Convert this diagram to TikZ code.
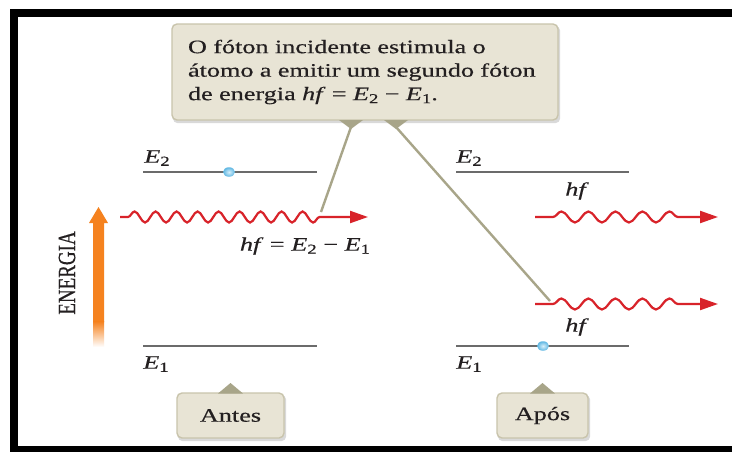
\documentclass[tikz,border=0pt]{standalone}
\usepackage{fontspec}
\usepackage{graphicx}
\setmainfont[FakeStretch=1.38,FakeBold=0.5]{Liberation Serif}
\newfontfamily\plainserif[FakeBold=0.5]{Liberation Serif}
\usetikzlibrary{arrows.meta,decorations.pathmorphing,shapes.geometric}

\definecolor{boxfill}{HTML}{E8E4D5}
\definecolor{boxedge}{HTML}{C9C4AC}
\definecolor{boxshadow}{HTML}{D9D9D9}
\definecolor{pointer}{HTML}{A8A589}
\definecolor{wavered}{HTML}{D8232A}
\definecolor{levelgray}{HTML}{6B6B6B}
\definecolor{energyorange}{HTML}{F5821F}
\definecolor{electron}{HTML}{5DB6E2}
\definecolor{electronlight}{HTML}{D8F0FB}
\definecolor{textdark}{HTML}{231F20}

\newcommand{\lowidx}[1]{\raisebox{-0.35ex}{\scalebox{0.72}{#1}}}
\newcommand{\mE}{\textit{E}}

\pgfdeclarelayer{shadowlayer}
\pgfsetlayers{shadowlayer,main}

\begin{document}
\begin{tikzpicture}[x=1pt,y=-1pt,
  textfont/.style={font=\fontsize{19}{23.5}\selectfont, text=textdark},
  labelfont/.style={font=\fontsize{19}{20}\selectfont, text=textdark, inner sep=0pt},
  callout/.style={draw=boxedge, fill=boxfill, line width=1.4pt, rounded corners=5pt},
  boxshade/.style={fill=boxshadow, rounded corners=5pt},
  tagbox/.style={callout, textfont, minimum height=45pt, inner sep=0pt},
  pointerline/.style={draw=pointer, line width=2.4pt},
  pointertip/.style={fill=pointer},
  level/.style={draw=levelgray, line width=1.6pt},
  electronball/.style={ellipse, inner color=electronlight, outer color=electron, minimum width=12pt, minimum height=9.5pt, inner sep=0pt},
  wave/.style={draw=wavered, line width=2.2pt, decorate,
     -{Triangle[length=18pt,width=12pt]}},
]
\useasboundingbox (0,0) rectangle (732,451);
\begin{pgfonlayer}{shadowlayer}
\fill[white] (-20,-20) rectangle (780,480);
\end{pgfonlayer}

% frame
\fill[black] (10,9) rectangle (18,480);
\fill[black] (10,9) rectangle (780,17);
\fill[black] (10,446) rectangle (780,480);

% callout
\node[callout, textfont, text width=354pt, inner xsep=16pt, inner ysep=0pt,
      minimum height=96pt, align=left] (note) at (365,72)
 {O fóton incidente estimula o\\
  átomo a emitir um segundo fóton\\
  de energia \textit{hf} = \mE\lowidx{2} − \mE\lowidx{1}.};

% connector pointers
\coordinate (p1) at (351,127);
\coordinate (p1e) at (321,212);
\coordinate (p2) at (396,127);
\coordinate (p2e) at (550,301);
\draw[pointerline] (p1) -- (p1e);
\draw[pointerline] (p2) -- (p2e);
\fill[pointertip] (339,120) -- (363,120) -- (351,129) -- cycle;
\fill[pointertip] (384,120) -- (408,120) -- (396,129) -- cycle;

% energy levels left
\coordinate (l2a) at (143,172); \coordinate (l2b) at (317,172);
\coordinate (l1a) at (143,346); \coordinate (l1b) at (317,346);
\draw[level] (l2a) -- (l2b);
\draw[level] (l1a) -- (l1b);
\node[electronball] (eleft) at (229,172) {};
\node[labelfont] (e2l) at (157,158) {\mE\lowidx{2}};
\node[labelfont] (e1l) at (156,364) {\mE\lowidx{1}};

% energy levels right
\coordinate (r2a) at (456,172); \coordinate (r2b) at (629,172);
\coordinate (r1a) at (456,346); \coordinate (r1b) at (629,346);
\draw[level] (r2a) -- (r2b);
\draw[level] (r1a) -- (r1b);
\node[electronball] (eright) at (543,346) {};
\node[labelfont] (e2r) at (469,158) {\mE\lowidx{2}};
\node[labelfont] (e1r) at (469,364) {\mE\lowidx{1}};

% waves
\coordinate (w1s) at (120,217); \coordinate (w1e) at (368,217);
\coordinate (w2s) at (535,217); \coordinate (w2e) at (718,217);
\coordinate (w3s) at (535,304); \coordinate (w3e) at (718,304);
\draw[wave, decoration={snake, amplitude=5.5pt, segment length=21pt, pre length=8pt, post length=40pt}] (w1s) -- (w1e);
\draw[wave, decoration={snake, amplitude=5.5pt, segment length=27pt, pre length=18pt, post length=38pt}] (w2s) -- (w2e);
\draw[wave, decoration={snake, amplitude=5.5pt, segment length=27pt, pre length=18pt, post length=38pt}] (w3s) -- (w3e);

\node[labelfont] (hfl) at (305,246) {\textit{hf} = \mE\lowidx{2} − \mE\lowidx{1}};
\node[labelfont] (hf1) at (577,191) {\textit{hf}};
\node[labelfont] (hf2) at (577,327) {\textit{hf}};

% energy arrow
\fill[energyorange] (98.5,207) -- (108,223) -- (104,223) -- (104,322) -- (93,322) -- (93,223) -- (89,223) -- cycle;
\shade[top color=energyorange, bottom color=white] (93,321.5) rectangle (104,347);
\node[font=\plainserif\fontsize{19}{20}\selectfont, text=textdark, rotate=90] (energia) at (67,273) {\scalebox{1}[1.3]{ENERGIA}};

% tags
\node[tagbox, minimum width=107pt] (antes) at (230.5,415.5) {Antes};
\node[tagbox, minimum width=91pt] (apos) at (542.5,415.5) {Após};
\fill[pointertip] (218,393.5) -- (243,393.5) -- (230.5,383) -- cycle;
\fill[pointertip] (530,393.5) -- (555,393.5) -- (542.5,383) -- cycle;

% soft shadows under the boxes
\begin{pgfonlayer}{shadowlayer}
\fill[boxshade] ([shift={(1.5,2.5)}]note.north west) rectangle ([shift={(1.5,2.5)}]note.south east);
\fill[boxshade] ([shift={(1.5,2.5)}]antes.north west) rectangle ([shift={(1.5,2.5)}]antes.south east);
\fill[boxshade] ([shift={(1.5,2.5)}]apos.north west) rectangle ([shift={(1.5,2.5)}]apos.south east);
\end{pgfonlayer}
\end{tikzpicture}
\end{document}
